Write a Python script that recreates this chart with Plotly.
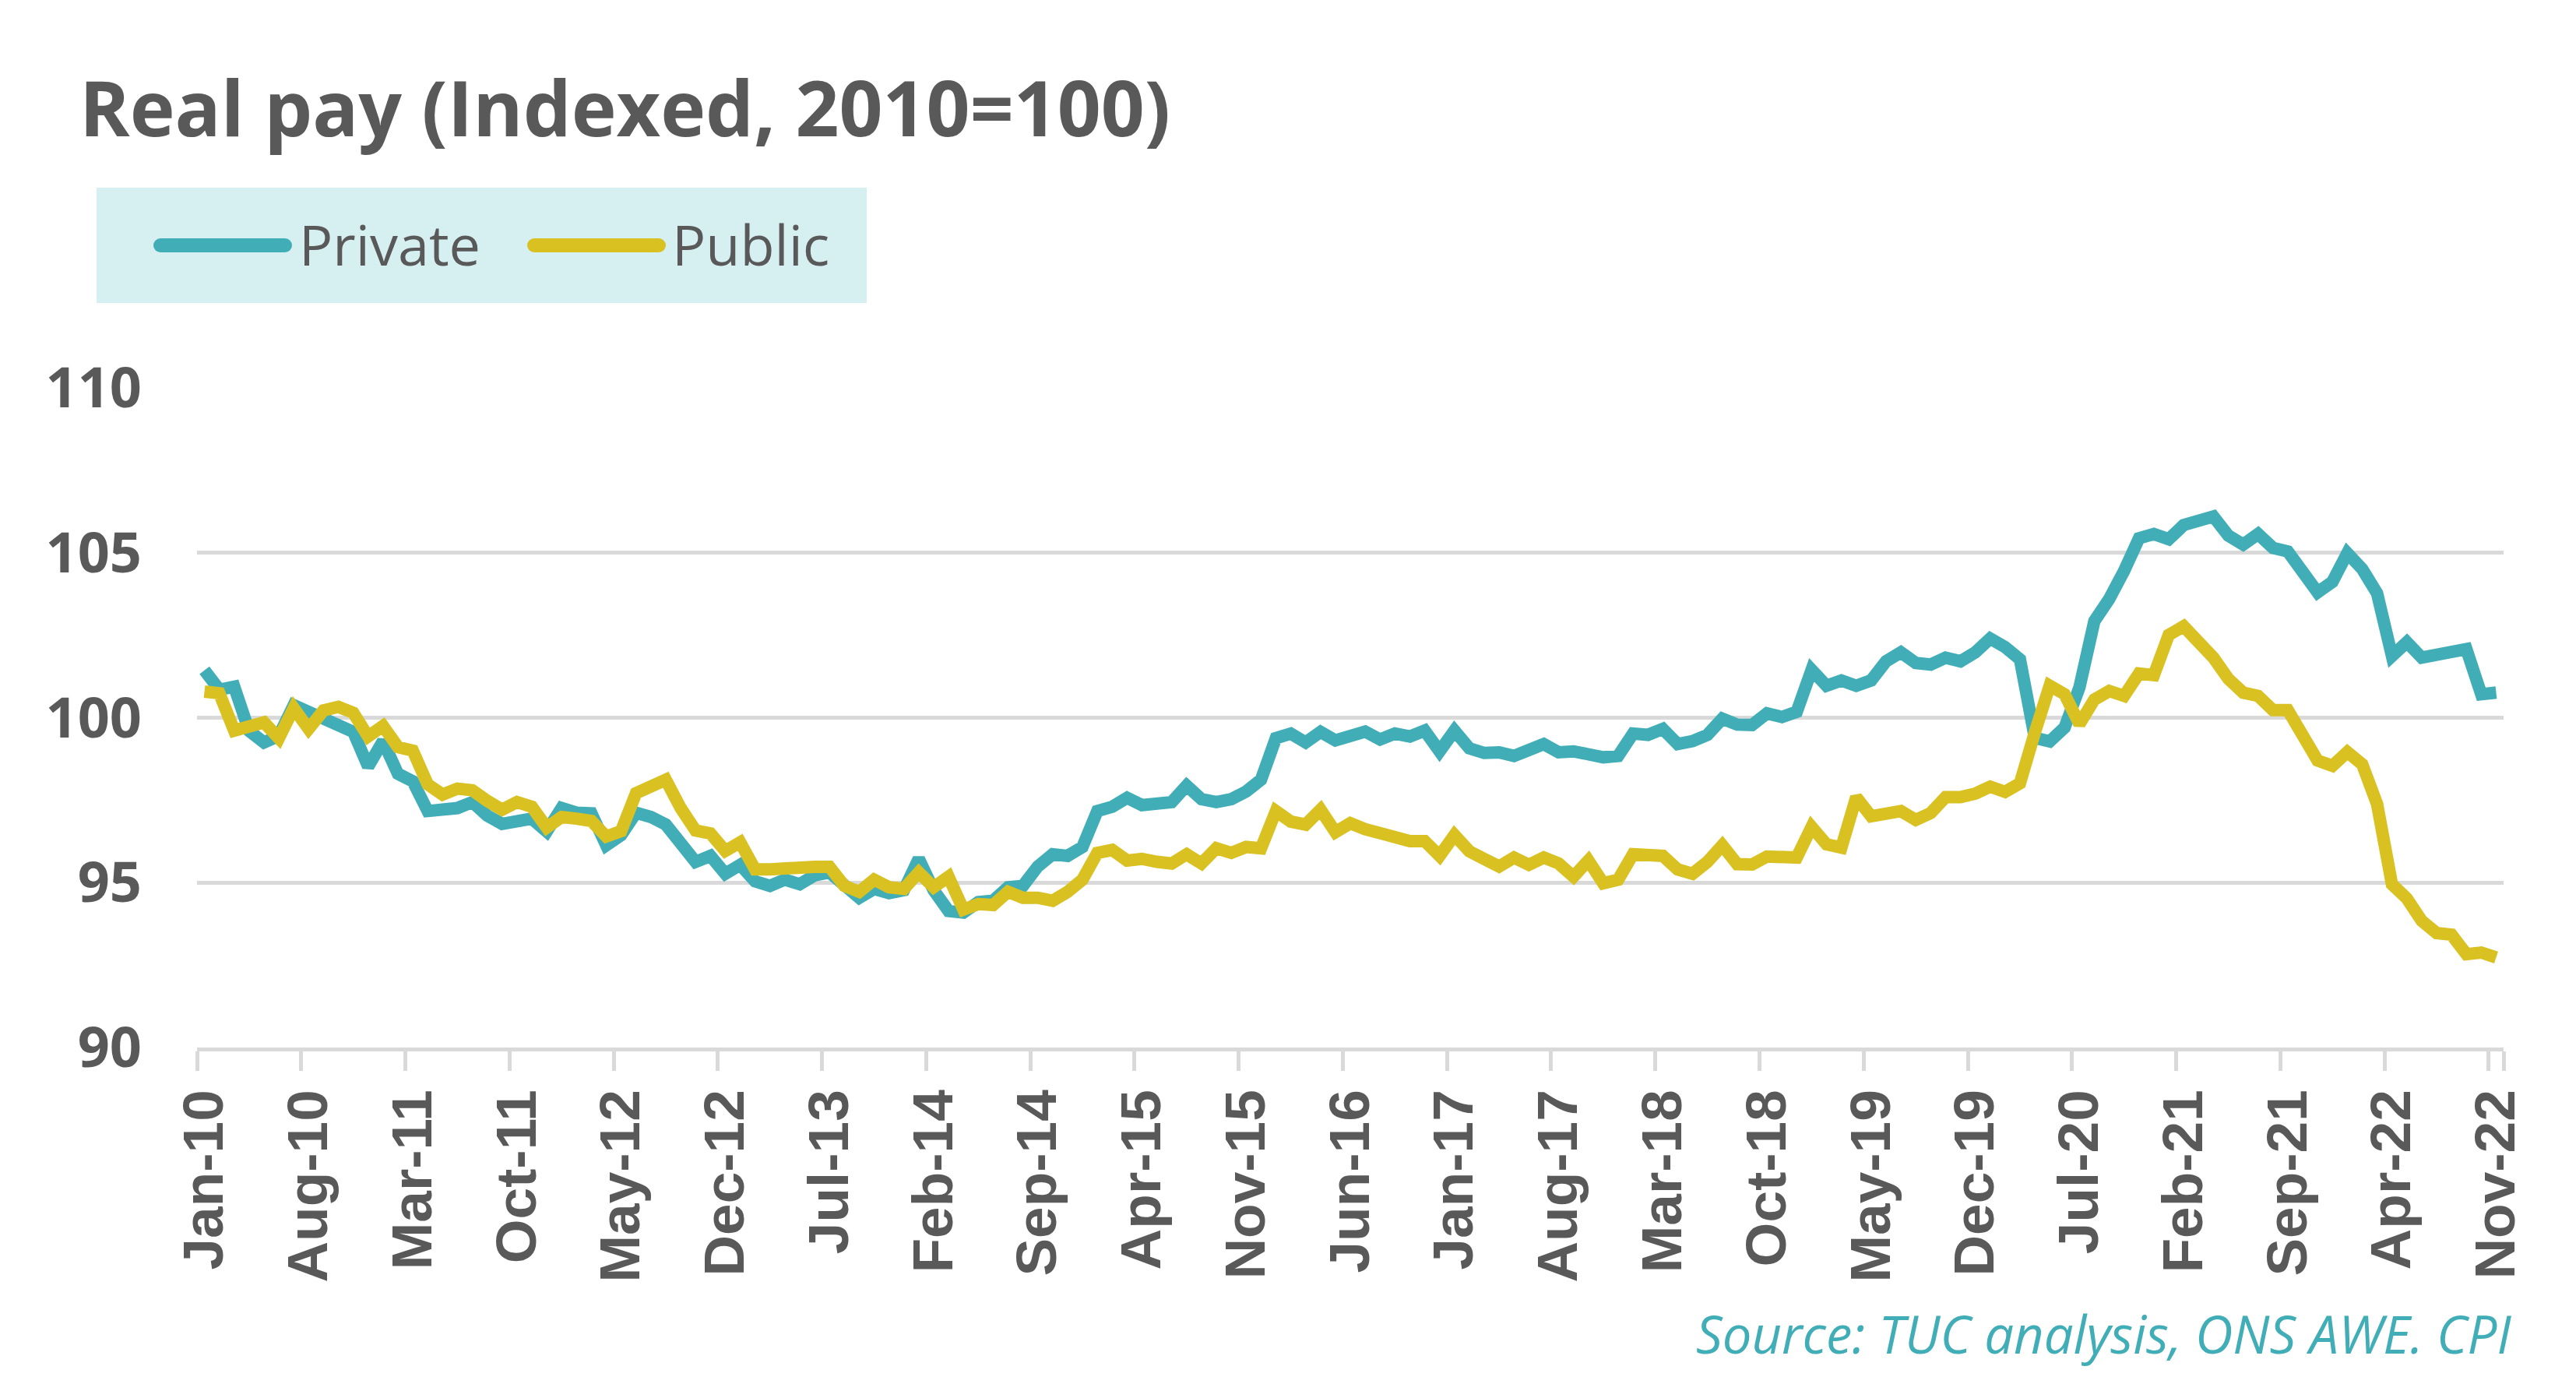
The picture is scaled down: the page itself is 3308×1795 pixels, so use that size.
import pandas as pd
import plotly.graph_objects as go

# ---------------- data ----------------
months = list(pd.date_range("2010-01-01", periods=155, freq="MS").strftime("%b-%y"))

tick_labels = ["Jan-10", "Aug-10", "Mar-11", "Oct-11", "May-12", "Dec-12", "Jul-13",
               "Feb-14", "Sep-14", "Apr-15", "Nov-15", "Jun-16", "Jan-17", "Aug-17",
               "Mar-18", "Oct-18", "May-19", "Dec-19", "Jul-20", "Feb-21", "Sep-21",
               "Apr-22", "Nov-22"]

private = [
    101.44, 100.85, 100.94, 99.60, 99.25, 99.45, 100.38, 100.18, 99.93, 99.75,
    99.57, 98.52, 99.29, 98.30, 98.07, 97.17, 97.21, 97.26, 97.44, 97.03,
    96.78, 96.87, 96.94, 96.55, 97.26, 97.12, 97.10, 96.13, 96.44, 97.12,
    96.99, 96.76, 96.13, 95.63, 95.81, 95.27, 95.54, 95.04, 94.90, 95.09,
    94.95, 95.22, 95.31, 94.86, 94.54, 94.81, 94.68, 94.77, 95.72, 94.77,
    94.14, 94.09, 94.41, 94.45, 94.86, 94.90, 95.49, 95.86, 95.81, 96.08,
    97.17, 97.30, 97.57, 97.35, 97.39, 97.44, 97.94, 97.53, 97.44, 97.53,
    97.76, 98.12, 99.38, 99.52, 99.25, 99.57, 99.31, 99.43, 99.58, 99.34,
    99.52, 99.43, 99.61, 98.98, 99.61, 99.07, 98.93, 98.95, 98.84, 99.02,
    99.20, 98.95, 98.98, 98.89, 98.80, 98.84, 99.52, 99.48, 99.66, 99.20,
    99.29, 99.48, 99.97, 99.79, 99.78, 100.13, 100.02, 100.18, 101.45, 100.97,
    101.13, 100.97, 101.13, 101.71, 101.98, 101.66, 101.61, 101.82, 101.71, 101.98,
    102.40, 102.14, 101.77, 99.39, 99.28, 99.70, 100.92, 102.93, 103.60, 104.45,
    105.44, 105.57, 105.41, 105.84, 105.95, 106.10, 105.52, 105.25, 105.57, 105.15,
    105.04, 104.41, 103.80, 104.12, 104.99, 104.51, 103.77, 101.87, 102.29, 101.82,
    101.92, 102.03, 102.08, 100.71, 100.76,
]

public = [
    100.79, 100.74, 99.61, 99.70, 99.86, 99.38, 100.29, 99.66, 100.22, 100.33,
    100.15, 99.43, 99.75, 99.11, 99.00, 97.98, 97.67, 97.85, 97.80, 97.48,
    97.21, 97.44, 97.30, 96.67, 96.99, 96.94, 96.87, 96.40, 96.56, 97.71,
    97.89, 98.12, 97.26, 96.58, 96.49, 95.96, 96.22, 95.40, 95.40, 95.45,
    95.42, 95.48, 95.48, 94.90, 94.72, 95.09, 94.86, 94.81, 95.31, 94.86,
    95.18, 94.18, 94.35, 94.32, 94.72, 94.54, 94.54, 94.45, 94.72, 95.09,
    95.90, 95.99, 95.67, 95.72, 95.63, 95.58, 95.86, 95.58, 96.04, 95.90,
    96.08, 96.04, 97.17, 96.85, 96.76, 97.21, 96.53, 96.80, 96.62, 96.49,
    96.31, 96.26, 96.26, 95.81, 96.44, 95.95, 95.72, 95.49, 95.76, 95.54,
    95.76, 95.58, 95.18, 95.67, 94.98, 95.09, 95.86, 95.81, 95.81, 95.40,
    95.27, 95.63, 96.13, 95.56, 95.55, 95.79, 95.74, 95.76, 96.69, 96.16,
    96.06, 97.59, 97.01, 97.06, 97.17, 96.90, 97.11, 97.59, 97.59, 97.70,
    97.91, 97.75, 98.01, 99.55, 100.97, 100.71, 99.81, 100.55, 100.81, 100.66,
    101.34, 101.29, 102.51, 102.77, 102.29, 101.82, 101.18, 100.76, 100.66, 100.23,
    100.23, 99.44, 98.70, 98.54, 98.96, 98.59, 97.38, 94.95, 94.52, 93.84,
    93.47, 93.42, 92.83, 92.88, 92.73,
]

# ---------------- style ----------------
TEAL = "#41AEB7"
YELLOW = "#D8C121"
GREY_TEXT = "#595959"
GRID = "#D9D9D9"
LEGEND_BG = "#D6EFF1"

W_FIG, H_FIG = 3308, 1795
L, R, T, B = 253, 3215, 498, 1345
PW, PH = R - L, B - T


def px(x):
    return (x - L) / PW


def py(y):
    return (B - y) / PH


fig = go.Figure()
fig.add_trace(go.Scatter(x=months, y=private, name="Private", mode="lines",
                         line=dict(color=TEAL, width=16), showlegend=False))
fig.add_trace(go.Scatter(x=months, y=public, name="Public", mode="lines",
                         line=dict(color=YELLOW, width=16), showlegend=False))

shapes = []
# legend box
shapes.append(dict(type="rect", xref="paper", yref="paper",
                   x0=px(124), x1=px(1113), y0=py(389), y1=py(241),
                   fillcolor=LEGEND_BG, line=dict(width=0), layer="below"))
for (xa, xb, col) in [(206, 366, TEAL), (686, 846, YELLOW)]:
    shapes.append(dict(type="line", xref="paper", yref="paper",
                       x0=px(xa), x1=px(xb), y0=py(315), y1=py(315),
                       line=dict(color=col, width=18)))
    for xc in (xa, xb):
        shapes.append(dict(type="circle", xref="paper", yref="paper",
                           x0=px(xc - 9), x1=px(xc + 9), y0=py(324), y1=py(306),
                           fillcolor=col, line=dict(width=0)))

annotations = [
    dict(text="Real pay (Indexed, 2010=100)", xref="paper", yref="paper",
         x=px(100), y=py(137), xanchor="left", yanchor="middle", showarrow=False,
         font=dict(family="Open Sans", size=98, color=GREY_TEXT, weight="bold")),
    dict(text="Private", xref="paper", yref="paper", x=px(382), y=py(313),
         xanchor="left", yanchor="middle", showarrow=False,
         font=dict(family="Open Sans", size=72, color=GREY_TEXT)),
    dict(text="Public", xref="paper", yref="paper", x=px(861), y=py(313),
         xanchor="left", yanchor="middle", showarrow=False,
         font=dict(family="Open Sans", size=72, color=GREY_TEXT)),
    dict(text="Source: TUC analysis, ONS AWE. CPI", xref="paper", yref="paper",
         x=px(3227), y=py(1712), xanchor="right", yanchor="middle", showarrow=False,
         font=dict(family="Open Sans", size=67, color=TEAL, style="italic")),
]

fig.update_layout(
    width=W_FIG, height=H_FIG,
    margin=dict(l=L, r=W_FIG - R, t=T, b=H_FIG - B, pad=0),
    paper_bgcolor="white", plot_bgcolor="white",
    shapes=shapes, annotations=annotations,
    showlegend=False,
)

fig.update_xaxes(
    type="category", categoryorder="array", categoryarray=months,
    range=[-0.5, len(months) - 0.5],
    tickmode="array", tickvals=tick_labels, ticktext=tick_labels,
    tickson="boundaries", ticks="outside", ticklen=25, tickwidth=5, tickcolor=GRID,
    showline=True, linecolor=GRID, linewidth=5, showgrid=False, zeroline=False,
    tickangle=-90, ticklabelstandoff=20,
    tickfont=dict(family="Liberation Sans", size=73, color=GREY_TEXT, weight="bold"),
)
fig.update_yaxes(
    range=[90, 110], tickmode="linear", tick0=90, dtick=5,
    showgrid=True, gridcolor=GRID, gridwidth=5, zeroline=False, showline=False,
    ticks="", ticklabelstandoff=70,
    tickfont=dict(family="Open Sans", size=72, color=GREY_TEXT, weight="bold"),
)

fig.write_html("out.html")
